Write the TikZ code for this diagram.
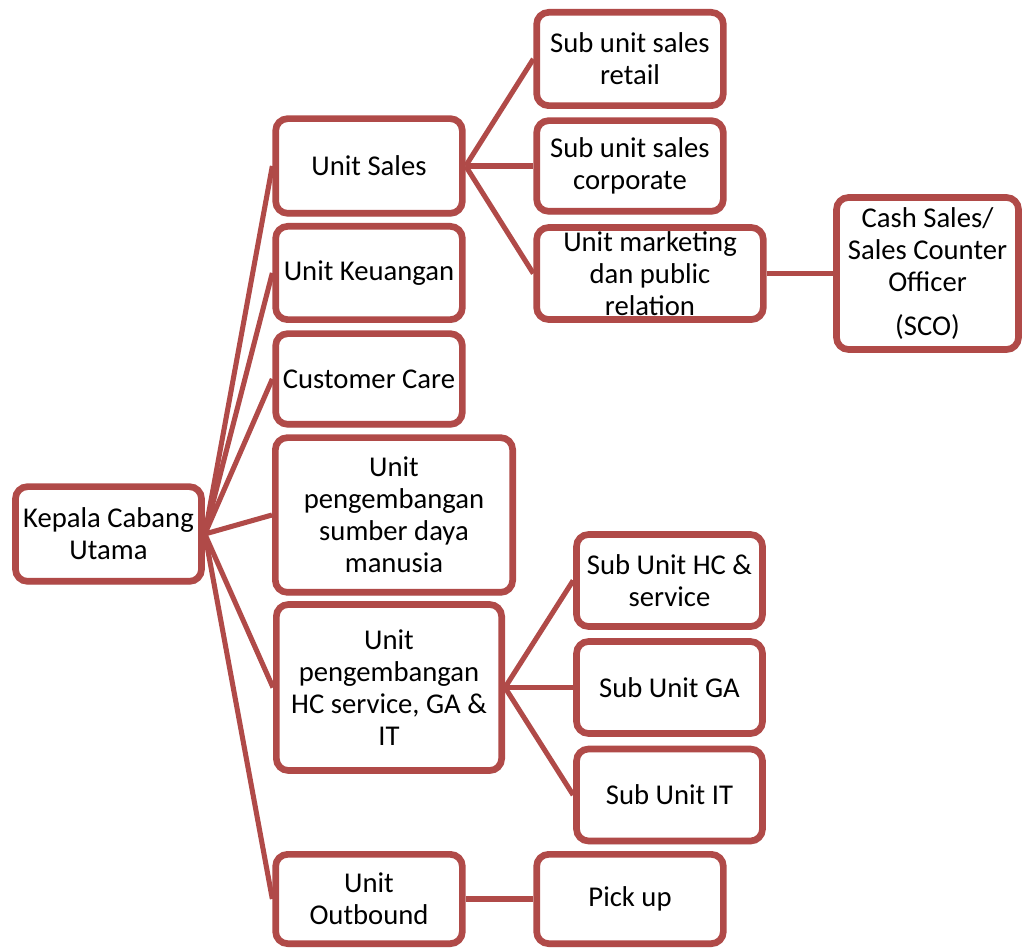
\documentclass[tikz,border=0pt]{standalone}
\usepackage{fontspec}
\setmainfont{Carlito}
\usepackage{tikz}
\usetikzlibrary{positioning, shadows, backgrounds}

\definecolor{unitred}{RGB}{176,74,72}

\begin{document}
\begin{tikzpicture}[
        x=0.75pt, y=-0.75pt,
        font=\fontsize{21.5}{24}\selectfont,
        unitbox/.style={draw=unitred, line width=5pt, fill=white, rounded corners=9pt,
            align=center, inner sep=0pt, minimum width=140pt, minimum height=69pt,
            drop shadow={opacity=0.25, shadow xshift=1pt, shadow yshift=-2.5pt}},
        link/.style={draw=unitred, line width=3.8pt}
    ]
    \useasboundingbox (0,0) rectangle (1022,948);

    % Root
    \node[unitbox, minimum width=139.5pt, minimum height=71pt] (kepala) at (108.5,534) {Kepala Cabang\\Utama};

    % Units
    \node[unitbox, minimum height=71pt] (sales) at (369,166) {Unit Sales};
    \node[unitbox, minimum height=70pt] (keuangan) at (369,273) {Unit Keuangan};
    \node[unitbox, minimum height=68pt] (care) at (369,379) {Customer Care};
    \node[unitbox, minimum width=178pt, minimum height=116pt] (sdm) at (394,515)
        {Unit\\pengembangan\\sumber daya\\manusia};
    \node[unitbox, minimum width=169pt, minimum height=124.5pt] (hcga) at (389,687.5)
        {Unit\\pengembangan\\HC service, GA \&\\IT};
    \node[unitbox, minimum height=67pt] (outbound) at (369,899) {Unit\\Outbound};

    % Sub units of sales
    \node[unitbox, minimum height=70pt] (retail) at (630,59) {Sub unit sales\\retail};
    \node[unitbox, minimum height=68pt] (corporate) at (630,166) {Sub unit sales\\corporate};
    \node[unitbox, minimum width=170pt] (marketing) at (650,273.5) {Unit marketing\\dan public\\relation};
    \node[unitbox, minimum width=136.5pt, minimum height=114pt] (sco) at (927.5,273.5)
        {Cash Sales/\\Sales Counter\\Officer\\[9pt](SCO)};

    % Sub units of HC service
    \node[unitbox, minimum width=139.5pt] (subhc) at (669.5,580.5) {Sub Unit HC \&\\service};
    \node[unitbox, minimum width=139.5pt] (subga) at (669.5,687.5) {Sub Unit GA};
    \node[unitbox, minimum width=139.5pt] (subit) at (669.5,795) {Sub Unit IT};

    % Outbound
    \node[unitbox, minimum height=67pt] (pickup) at (630,899) {Pick up};

    % Connectors
    \begin{scope}[on background layer]
        \foreach \unit in {sales, keuangan, care, sdm, hcga, outbound}
            \draw[link] (kepala.east) -- (\unit.west);
        \foreach \sub in {retail, corporate, marketing}
            \draw[link] (sales.east) -- (\sub.west);
        \foreach \sub in {subhc, subga, subit}
            \draw[link] (hcga.east) -- (\sub.west);
        \draw[link] (marketing.east) -- (sco.west);
        \draw[link] (outbound.east) -- (pickup.west);
    \end{scope}

\end{tikzpicture}
\end{document}
